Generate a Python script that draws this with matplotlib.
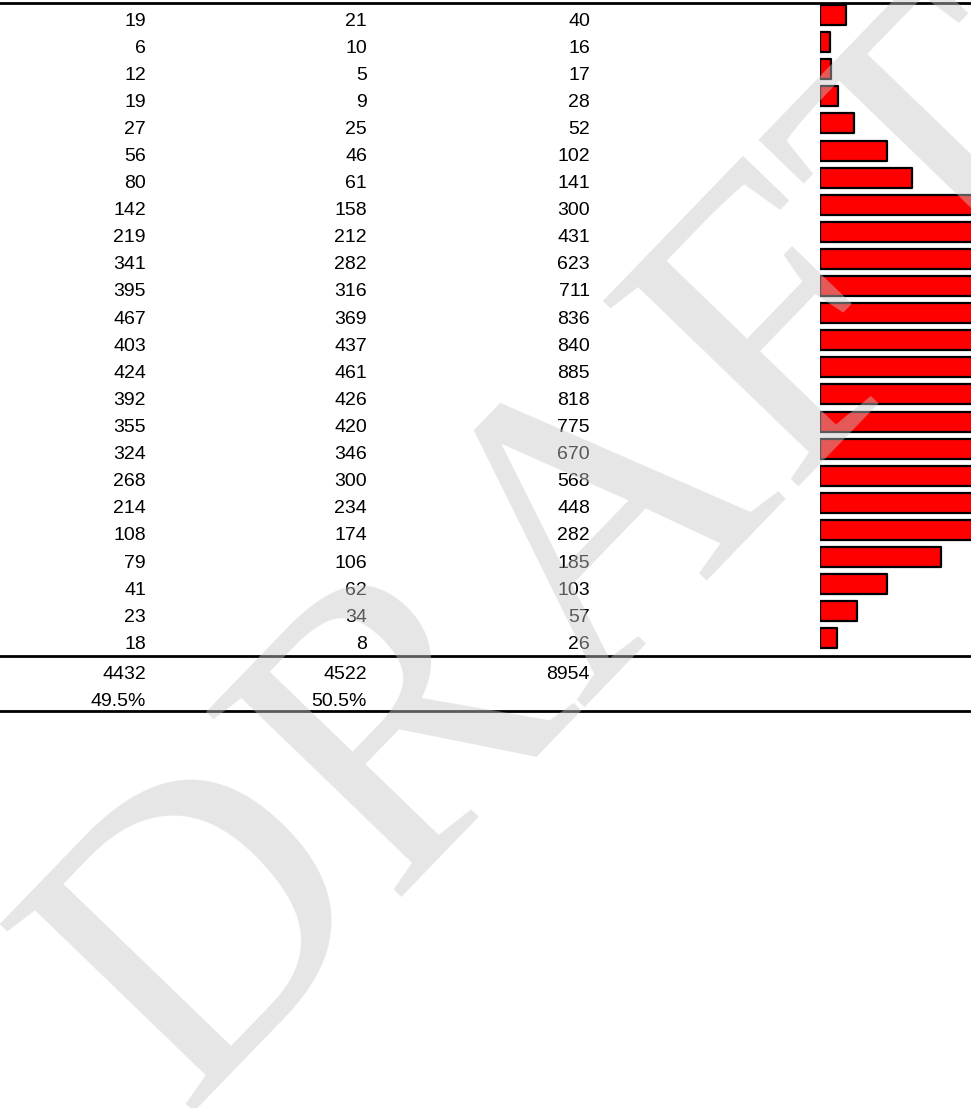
import numpy as np
import matplotlib
matplotlib.use("Agg")
import matplotlib.pyplot as plt

# age-band counts (top row first)
males = [19, 6, 12, 19, 27, 56, 80, 142, 219, 341, 395, 467,
         403, 424, 392, 355, 324, 268, 214, 108, 79, 41, 23, 18]
females = [21, 10, 5, 9, 25, 46, 61, 158, 212, 282, 316, 369,
           437, 461, 426, 420, 346, 300, 234, 174, 106, 62, 34, 8]
totals = [40, 16, 17, 28, 52, 102, 141, 300, 431, 623, 711, 836,
          840, 885, 818, 775, 670, 568, 448, 282, 185, 103, 57, 26]
sum_row = ["4432", "4522", "8954"]
pct_row = ["49.5%", "50.5%"]

W, H = 971, 1108
fig = plt.figure(figsize=(W / 100, H / 100), dpi=100)
ax = fig.add_axes([0, 0, 1, 1])
ax.set_xlim(0, W)
ax.set_ylim(H, 0)
ax.axis("off")

font = dict(family="Liberation Sans", fontsize=14, color="black")
col_x = [146, 367, 590]
rows = 18.5 + 27.1 * np.arange(len(totals))
off = 7  # baseline below row centre

for y, m, f, t in zip(rows, males, females, totals):
    for x, v in zip(col_x, (m, f, t)):
        ax.text(x, y + off, str(v), ha="right", va="baseline", **font)

y_sum = 672
y_pct = 699.5
for x, s in zip(col_x, sum_row):
    ax.text(x, y_sum + off, s, ha="right", va="baseline", **font)
for x, s in zip(col_x, pct_row):
    ax.text(x, y_pct + off, s, ha="right", va="baseline", **font)

for y in (3, 656, 711):
    ax.axhline(y, color="black", lw=2)

# bars for the totals column
bx = fig.add_axes([820 / W, 0, (W - 820) / W, 1])
bx.set_ylim(H, 0)
bx.set_xlim(0, (W - 820) / 0.655)
bx.axis("off")
bx.barh(rows - 3.5, totals, height=20, left=0, color="#ff0000",
        edgecolor="black", linewidth=1.6, joinstyle="round")

# watermark
fig.text(182, 1112, "DRAFT", transform=ax.transData, rotation=46,
         rotation_mode="anchor", ha="left", va="baseline",
         family="Liberation Serif", fontsize=296, color="#c8c8c8",
         alpha=0.45, zorder=10)

fig.savefig("out.png", dpi=100)
